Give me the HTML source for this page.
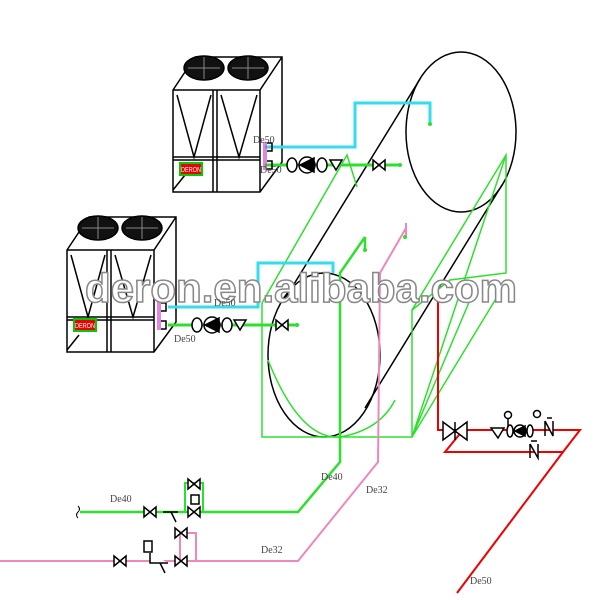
<!DOCTYPE html>
<html><head><meta charset="utf-8"><style>html,body{margin:0;padding:0;background:#fff}svg{display:block}</style></head>
<body>
<svg width="600" height="600" viewBox="0 0 600 600" xmlns="http://www.w3.org/2000/svg" font-family="Liberation Sans, sans-serif">
<defs>
<g id="unit" stroke="#000" fill="none" stroke-width="1.5">
  <path d="M0,33 L22,0 L109,0 L109,105 L87,135 L0,135 Z M0,33 L87,33 L109,0 M87,33 L87,135"/>
  <path d="M0,100 L87,100 M0,103 L87,103 M40,33 L40,135 M44,33 L44,135 M4,38 L21,100 L38,38 M48,38 L66,100 L84,38 M0,133 L12,118"/>
  <ellipse cx="31" cy="11" rx="20" ry="12" fill="#111"/>
  <ellipse cx="75" cy="11" rx="20" ry="12" fill="#111"/>
  <path d="M15,11 L47,11 M31,0 L31,22 M59,11 L91,11 M75,0 L75,22" stroke="#888" stroke-width="1"/>
</g>
<g id="bv" stroke="#000" stroke-width="1.5" fill="#fff"><path d="M-6,-5 L6,5 L6,-5 L-6,5 Z"/></g>
</defs>

<!-- chillers -->
<use href="#unit" x="173" y="57"/>
<rect x="180" y="163" width="22" height="12" fill="#e00" stroke="#0c0" stroke-width="2"/>
<text x="181" y="172" font-size="7" fill="#fff" textLength="20" lengthAdjust="spacingAndGlyphs">DERON</text>
<use href="#unit" x="67" y="217"/>
<rect x="74" y="319" width="22" height="12" fill="#e00" stroke="#0c0" stroke-width="2"/>
<text x="75" y="328" font-size="7" fill="#fff" textLength="20" lengthAdjust="spacingAndGlyphs">DERON</text>

<!-- tanks -->
<g stroke="#000" stroke-width="1.5" fill="none">
<ellipse cx="461" cy="132" rx="55" ry="80"/>
<ellipse cx="324" cy="355" rx="56" ry="82"/>
<path d="M420,79 L283,302 M502,185 L365,408"/>
</g>

<!-- green -->
<g stroke="#2ee02e" stroke-width="1.5" fill="none">
<path d="M262,303 L262,437 L412,437 L412,310 L506,155 L506,273 L450,280 L412,310"/>
<path d="M262,303 L347,155 L357,187"/>
<path d="M412,437 L506,155 M412,437 L497,297 M412,437 L470,300"/>
<path d="M268,360 Q300,440 340,437 Q380,430 395,400"/>
<path d="M365,237 L365,250 M365,237 L340,273 L340,462 L298,512 L80,512" stroke-width="2.5"/>
<path d="M185,512 L185,483 L203,483 L203,512" stroke-width="2"/>
</g>
<path d="M78,506 q3,3 0,6 q-3,3 0,6" stroke="#000" fill="none"/>
<path d="M265,165 L400,165 M168,325 L297,325" stroke="#2ee02e" stroke-width="3"/>
<circle cx="400" cy="165" r="2" fill="#2ee02e"/><circle cx="297" cy="325" r="2" fill="#2ee02e"/>
<circle cx="365" cy="250" r="2" fill="#2ee02e"/>

<!-- cyan -->
<path d="M265,147 L355,147 L355,103 L430,103 L430,123 M168,307 L258,307 L258,263 L333,263 L333,273" stroke="#33ddee" stroke-width="3" fill="none"/>
<circle cx="430" cy="124" r="2" fill="#2ee02e"/>

<!-- pink -->
<path d="M406,223 L406,237 M406,228 L380,273 L378,462 L298,561 L0,561" stroke="#ee88bb" stroke-width="2" fill="none"/>
<path d="M180,561 L180,533 L196,533 L196,561" stroke="#ee88bb" stroke-width="2" fill="none"/>
<circle cx="405" cy="237" r="2" fill="#2ee02e"/>

<!-- red -->
<path d="M438,288 L438,430 L580,430 L563,452 L445,452 L463,430 M563,452 L457,593" stroke="#e00" stroke-width="2" fill="none"/>

<!-- pumps/valves on upper lines -->
<g stroke="#000" stroke-width="1.5" fill="#fff">
 <rect x="263" y="142" width="4" height="28" fill="#c3c" stroke="none" opacity=".6"/>
 <path d="M267,143 L272,143 L272,151 L267,151 M267,161 L272,161 L272,169 L267,169" fill="none"/>
 <ellipse cx="292" cy="165" rx="5" ry="7"/><circle cx="307" cy="165" r="8"/>
 <path d="M300,165 L314,158 L314,172 Z" fill="#000"/>
 <ellipse cx="322" cy="165" rx="5" ry="7"/>
 <path d="M330,160 L342,160 L336,170 Z"/>
 <rect x="157" y="302" width="4" height="28" fill="#c3c" stroke="none" opacity=".6"/>
 <path d="M161,303 L166,303 L166,311 L161,311 M161,321 L166,321 L166,329 L161,329" fill="none"/>
 <ellipse cx="197" cy="325" rx="5" ry="7"/><circle cx="212" cy="325" r="8"/>
 <path d="M205,325 L219,318 L219,332 Z" fill="#000"/>
 <ellipse cx="227" cy="325" rx="5" ry="7"/>
 <path d="M234,320 L246,320 L240,330 Z"/>
</g>
<use href="#bv" x="379" y="165"/>
<use href="#bv" x="282" y="325"/>

<!-- bottom left valves -->
<use href="#bv" x="150" y="512"/><use href="#bv" x="194" y="484"/><use href="#bv" x="194" y="512"/>
<use href="#bv" x="120" y="561"/><use href="#bv" x="181" y="533"/><use href="#bv" x="181" y="561"/>
<g stroke="#000" stroke-width="1.5" fill="#fff">
 <rect x="191" y="495" width="8" height="9"/><rect x="144" y="541" width="8" height="11"/>
 <path d="M163,512 L178,512 M171,512 L176,522 M150,553 L150,563 L168,563 M160,563 L165,573"/>
</g>

<!-- red side components -->
<g stroke="#000" stroke-width="1.5" fill="#fff">
 <path d="M443,422 L467,440 L467,422 L443,440 Z M455,422 L455,440"/>
 <path d="M491,428 L504,428 L498,438 Z"/>
 <circle cx="508" cy="415" r="3.5"/><path d="M508,419 L508,428"/>
 <ellipse cx="510" cy="431" rx="3" ry="6"/><circle cx="520" cy="431" r="6"/>
 <path d="M515,431 L525,426 L525,436 Z" fill="#000"/><ellipse cx="530" cy="431" rx="3" ry="6"/>
 <circle cx="537" cy="414" r="3.5"/>
 <path d="M545,421 L545,436 M545,421 L553,436 L553,421 M547,418 L552,418"/>
 <path d="M530,444 L530,458 M530,444 L538,458 L538,444 M531,441 L537,441"/>
</g>

<!-- watermark -->
<text x="85" y="302" font-size="41" font-weight="bold" fill="#fff" stroke="#888" stroke-width="1.5" textLength="432" lengthAdjust="spacingAndGlyphs">deron.en.alibaba.com</text>

<!-- labels -->
<g font-family="Liberation Serif, serif" font-size="10" fill="#444">
<text x="253" y="143">De50</text>
<text x="260" y="173">De50</text>
<text x="214" y="306">De50</text>
<text x="174" y="342">De50</text>
<text x="110" y="502">De40</text>
<text x="321" y="480">De40</text>
<text x="366" y="493">De32</text>
<text x="261" y="553">De32</text>
<text x="470" y="584">De50</text>
</g>
</svg>
</body></html>
